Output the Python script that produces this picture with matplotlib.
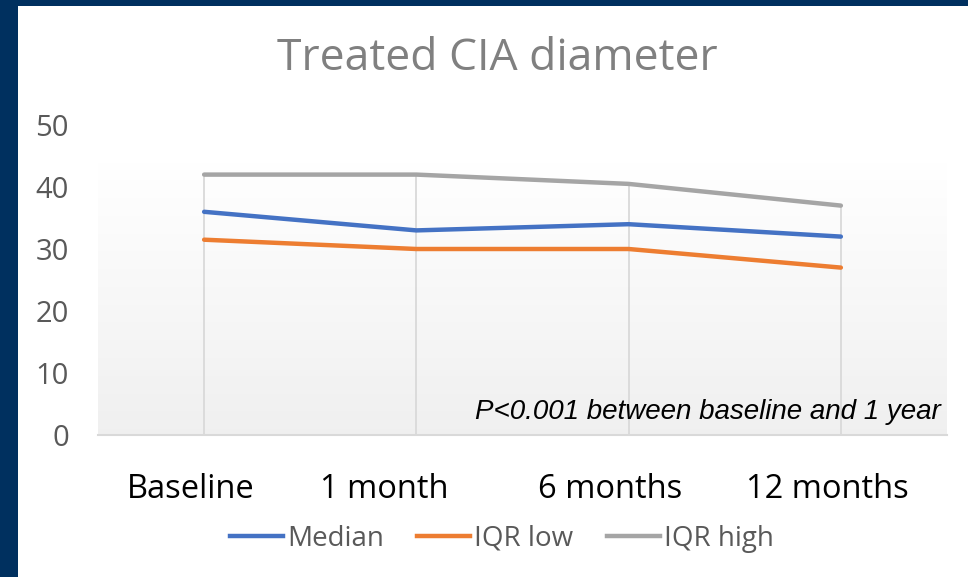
import numpy as np
import matplotlib.pyplot as plt
from matplotlib.patches import Rectangle
from matplotlib.lines import Line2D
from matplotlib.transforms import ScaledTranslation

categories = ["Baseline", "1 month", "6 months", "12 months"]
median = [36, 33, 34, 32]
iqr_low = [31.5, 30, 30, 27]
iqr_high = [42, 42, 40.5, 37]
series_names = ["Median", "IQR low", "IQR high"]
colors = ["#4472C4", "#ED7D31", "#A5A5A5"]

# decalage horizontal des etiquettes (en pixels) comme dans l'original
label_shift_px = [-13, -32, -19, -13]

fig = plt.figure(figsize=(9.68, 5.77), dpi=100)
fig.patch.set_facecolor("#00305F")
# panneau blanc (bordure bleue a gauche et en haut)
fig.patches.append(Rectangle((18 / 968, 0), 1, 1 - 6 / 577, transform=fig.transFigure,
                             facecolor="white", edgecolor="none", zorder=-10))

ax = fig.add_axes([98 / 968, 1 - 435 / 577, (947 - 98) / 968, (435 - 125) / 577])
ax.set_facecolor("none")
x = np.arange(len(categories))
ax.set_xlim(-0.5, 3.5)
ax.set_ylim(0, 50)

# degrade du fond (blanc en haut -> gris clair en bas)
shade = np.linspace(1.0, 0.94, 256)
grad = np.dstack([shade, shade, shade]).reshape(256, 1, 3)
ax.imshow(grad, extent=(-0.5, 3.5, 0, 43.9), aspect="auto", zorder=0,
          interpolation="bilinear")

# lignes de rappel verticales
tops = np.max([median, iqr_low, iqr_high], axis=0)
ax.vlines(x, 0, tops, color="#D9D9D9", lw=1.3, zorder=1)

for vals, c in zip([median, iqr_low, iqr_high], colors):
    ax.plot(x, vals, color=c, lw=3.2, solid_capstyle="round", zorder=3)

for s in ["top", "right", "left"]:
    ax.spines[s].set_visible(False)
ax.spines["bottom"].set_color("#D9D9D9")
ax.spines["bottom"].set_linewidth(1.5)

ax.set_yticks(range(0, 51, 10))
ax.set_xticks(x)
ax.set_xticklabels(categories)
ax.tick_params(axis="y", length=0, pad=21, labelsize=21, labelcolor="#595959")
ax.tick_params(axis="x", length=0, pad=27, labelsize=23.5, labelcolor="black")
for lab in ax.get_xticklabels() + ax.get_yticklabels():
    lab.set_family("Open Sans")
for lab, dx in zip(ax.get_xticklabels(), label_shift_px):
    lab.set_transform(lab.get_transform() + ScaledTranslation(dx / 100, 0, fig.dpi_scale_trans))

ax.text(3.47, 2.6, "P<0.001 between baseline and 1 year", style="italic",
        family="Liberation Sans", fontsize=20, ha="right", va="baseline", color="black")

fig.text(497 / 968, 1 - 59 / 577, "Treated CIA diameter", ha="center", va="center",
         fontsize=32, color="#808080", family="Open Sans")

handles = [Line2D([], [], color=c, lw=3.2) for c in colors]
leg = fig.legend(handles, series_names, loc="center", bbox_to_anchor=(502 / 968, 1 - 539 / 577),
                 ncol=3, frameon=False, handlelength=1.9, handletextpad=0.15,
                 columnspacing=1.2, prop={"family": "Open Sans", "size": 20})
for t in leg.get_texts():
    t.set_color("#595959")

fig.savefig("out.png", dpi=100, facecolor=fig.get_facecolor())
